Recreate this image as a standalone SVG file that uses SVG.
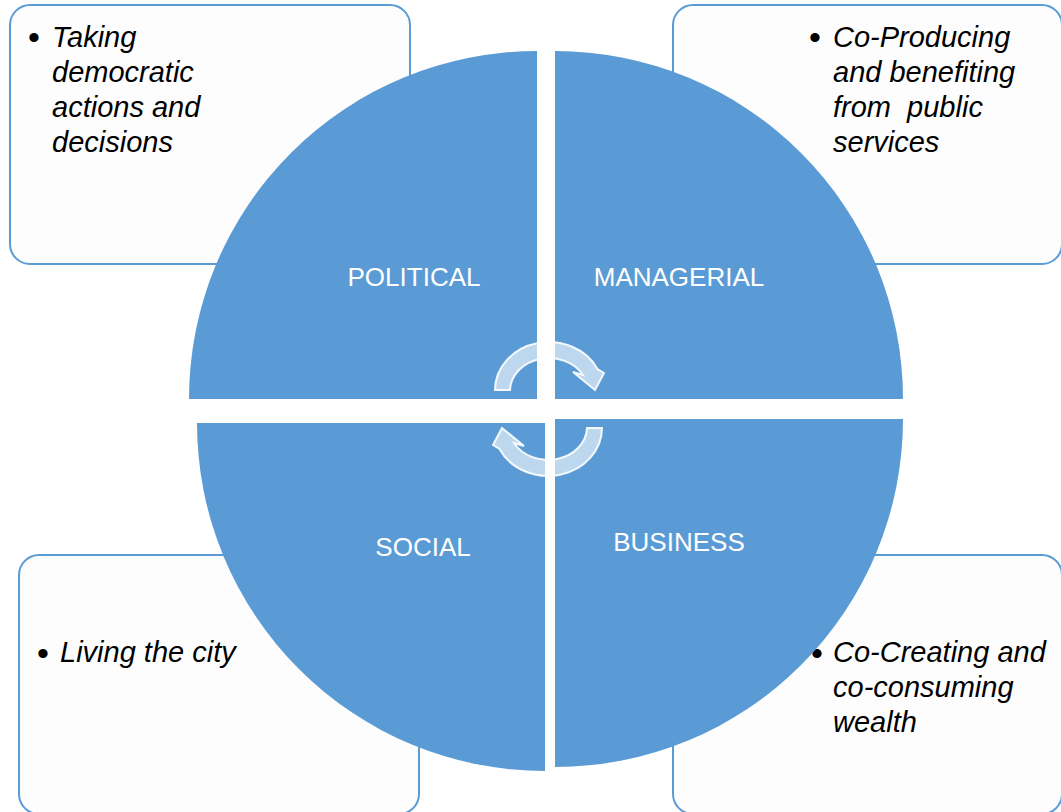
<svg xmlns="http://www.w3.org/2000/svg" width="1061" height="812" viewBox="0 0 1061 812">
<style>
.box{fill:#fdfdfd;stroke:#5b9bd5;stroke-width:2}
.note{font-family:"Liberation Sans",Arial,sans-serif;font-style:italic;font-size:29px;fill:#000}
.bul{font-family:"Liberation Sans",Arial,sans-serif;font-size:34px;fill:#000;text-anchor:middle}
.quad{fill:#5b9bd5}
.lbl{font-family:"Liberation Sans",Arial,sans-serif;font-size:26px;fill:#fff;text-anchor:middle}
.arr{fill:#ffffff;fill-opacity:0.6;stroke:#ffffff;stroke-opacity:0.9;stroke-width:2;stroke-linejoin:miter}
</style>
<defs>
<path id="cyc" d="M495,390 A54,48 0 0 1 597.5,369 L604,373 L595,390 L573,372 L583,375 A39,33 0 0 0 510,390 Z"/>
</defs>
<rect width="1061" height="812" fill="#ffffff"/>
<g id="note-political">
<rect class="box" x="10" y="5" width="400" height="259" rx="20"/>
<text class="bul" x="34" y="49">•</text>
<text class="note" x="52" y="47">Taking</text>
<text class="note" x="52" y="82">democratic</text>
<text class="note" x="52" y="117">actions and</text>
<text class="note" x="52" y="152">decisions</text>
</g>
<g id="note-managerial">
<rect class="box" x="673" y="5" width="389" height="259" rx="20"/>
<text class="bul" x="815" y="49">•</text>
<text class="note" x="833" y="47">Co-Producing</text>
<text class="note" x="833" y="82">and benefiting</text>
<text class="note" x="833" y="117" xml:space="preserve">from  public</text>
<text class="note" x="833" y="152">services</text>
</g>
<g id="note-social">
<rect class="box" x="19" y="555" width="400" height="259" rx="20"/>
<text class="bul" x="43" y="665">•</text>
<text class="note" x="60" y="662">Living the city</text>
</g>
<g id="note-business">
<rect class="box" x="673" y="555" width="389" height="259" rx="20"/>
<text class="bul" x="817" y="665">•</text>
<text class="note" x="833" y="662">Co-Creating and</text>
<text class="note" x="833" y="697">co-consuming</text>
<text class="note" x="833" y="732">wealth</text>
</g>
<g id="political">
<path class="quad" d="M537,399 L189,399 A348,348 0 0 1 537,51 Z"/>
<text class="lbl" x="414" y="286">POLITICAL</text>
</g>
<g id="managerial">
<path class="quad" d="M555,399 L555,51 A348,348 0 0 1 903,399 Z"/>
<text class="lbl" x="679" y="286">MANAGERIAL</text>
</g>
<g id="social">
<path class="quad" d="M545,423 L545,771 A348,348 0 0 1 197,423 Z"/>
<text class="lbl" x="423" y="556">SOCIAL</text>
</g>
<g id="business">
<path class="quad" d="M555,419 L903,419 A348,348 0 0 1 555,767 Z"/>
<text class="lbl" x="679" y="551">BUSINESS</text>
</g>
<g id="connectors">
<use href="#cyc" class="arr"/>
<use href="#cyc" class="arr" transform="rotate(180 548.5 409)"/>
</g>
</svg>
